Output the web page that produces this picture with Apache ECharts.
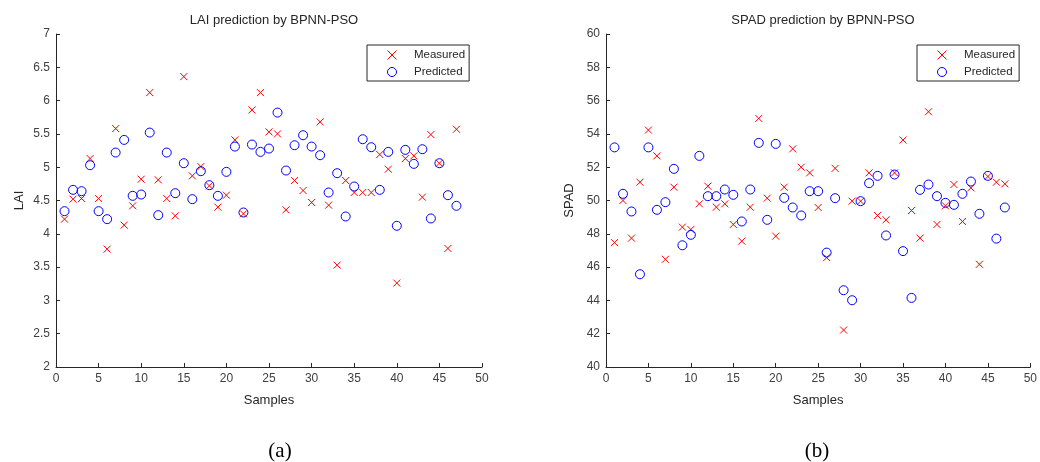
<!DOCTYPE html>
<html>
<head>
<meta charset="utf-8">
<script src="https://cdn.jsdelivr.net/npm/echarts@6/dist/echarts.min.js"></script>
<style>
  html, body { margin: 0; padding: 0; background: #fff; }
  #chart { width: 1040px; height: 462px; }
</style>
</head>
<body>
<div id="chart"></div>
<script>
// samples 1..47
var samples = [];
for (var s = 1; s <= 47; s++) samples.push(s);

// LAI (panel a)
var laiMeasured = [4.22, 4.52, 4.53, 5.13, 4.53, 3.77, 5.58, 4.13, 4.42, 4.82,
  6.12, 4.81, 4.53, 4.27, 6.36, 4.87, 5.01, 4.72, 4.40, 4.58,
  5.41, 4.30, 5.86, 6.12, 5.53, 5.50, 4.36, 4.80, 4.65, 4.47,
  5.68, 4.43, 3.53, 4.80, 4.62, 4.62, 4.62, 5.19, 4.97, 3.26,
  5.13, 5.17, 4.55, 5.49, 5.06, 3.78, 5.57];
var laiPredicted = [4.34, 4.66, 4.64, 5.03, 4.34, 4.22, 5.22, 5.41, 4.57, 4.59,
  5.52, 4.28, 5.22, 4.61, 5.06, 4.52, 4.94, 4.73, 4.57, 4.93,
  5.31, 4.32, 5.34, 5.23, 5.28, 5.82, 4.95, 5.33, 5.48, 5.31,
  5.18, 4.62, 4.91, 4.26, 4.71, 5.42, 5.30, 4.66, 5.23, 4.12,
  5.26, 5.05, 5.27, 4.23, 5.06, 4.58, 4.42];

// SPAD (panel b)
var spadMeasured = [47.47, 50.0, 47.74, 51.10, 54.23, 52.68, 46.47, 50.80, 48.40, 48.26,
  49.80, 50.86, 49.6, 49.8, 48.56, 47.56, 49.6, 54.93, 50.14, 47.86,
  50.80, 53.10, 52.0, 51.66, 49.58, 46.57, 51.93, 42.22, 49.96, 49.96,
  51.66, 49.10, 48.84, 51.66, 53.63, 49.4, 47.74, 55.33, 48.56, 49.68,
  50.96, 48.74, 50.76, 46.17, 51.44, 51.10, 51.0];
var spadPredicted = [53.19, 50.40, 49.34, 45.57, 53.19, 49.44, 49.90, 51.90, 47.31, 47.94,
  52.68, 50.26, 50.26, 50.66, 50.34, 48.74, 50.66, 53.46, 48.84, 53.40,
  50.16, 49.58, 49.1, 50.56, 50.56, 46.87, 50.14, 44.61, 44.01, 49.96,
  51.04, 51.48, 47.90, 51.56, 46.96, 44.15, 50.64, 50.96, 50.26, 49.86,
  49.74, 50.40, 51.14, 49.20, 51.48, 47.71, 49.58];

var titles = ['LAI prediction by BPNN-PSO', 'SPAD prediction by BPNN-PSO'];
var captions = ['(a)', '(b)'];

function pairs(vals) {
  return samples.map(function (x, i) { return [x, vals[i]]; });
}

var axisColor = '#262626';
var font = 'Liberation Sans, Arial, sans-serif';
var crossPath = 'path://M0,0L10,10M10,0L0,10';

function xAxisFor(idx) {
  return {
    gridIndex: idx, type: 'value', min: 0, max: 50, interval: 5,
    name: 'Samples', nameLocation: 'middle', nameGap: 27,
    nameTextStyle: { color: axisColor, fontSize: 13, fontFamily: font },
    axisLine: { lineStyle: { color: axisColor, width: 1 } },
    axisTick: { inside: true, length: 4, lineStyle: { color: axisColor } },
    axisLabel: { color: '#404040', fontSize: 12, fontFamily: font, margin: 6 },
    splitLine: { show: false }
  };
}

function yAxisFor(idx, name, min, max, step) {
  return {
    gridIndex: idx, type: 'value', min: min, max: max, interval: step,
    name: name, nameLocation: 'middle', nameGap: 30,
    nameTextStyle: { color: axisColor, fontSize: 13, fontFamily: font },
    axisLine: { show: true, lineStyle: { color: axisColor, width: 1 } },
    axisTick: { show: true, inside: true, length: 4, lineStyle: { color: axisColor } },
    axisLabel: { color: '#404040', fontSize: 12, fontFamily: font, margin: 6 },
    splitLine: { show: false }
  };
}

function measuredSeries(idx, vals) {
  return {
    name: 'Measured', type: 'scatter', xAxisIndex: idx, yAxisIndex: idx,
    symbol: crossPath, symbolSize: 7,
    itemStyle: { color: 'rgba(0,0,0,0)', borderColor: '#ff0000', borderWidth: 1, opacity: 1 },
    data: pairs(vals)
  };
}

function predictedSeries(idx, vals) {
  return {
    name: 'Predicted', type: 'scatter', xAxisIndex: idx, yAxisIndex: idx,
    symbol: 'circle', symbolSize: 9,
    itemStyle: { color: 'rgba(0,0,0,0)', borderColor: '#0000ff', borderWidth: 1, opacity: 1 },
    data: pairs(vals)
  };
}

function legendFor(left) {
  return {
    orient: 'vertical', left: left, top: 45,
    data: ['Measured', 'Predicted'],
    itemWidth: 24, itemHeight: 9, itemGap: 5,
    padding: [4, 4, 3, 20],
    borderColor: axisColor, borderWidth: 1, borderRadius: 0,
    backgroundColor: '#fff',
    itemStyle: { borderWidth: 1 },
    textStyle: { color: '#262626', fontSize: 11.5, fontFamily: font, padding: [0, 0, 0, 5] }
  };
}

var chart = echarts.init(document.getElementById('chart'), null, { renderer: 'canvas' });
chart.setOption({
  animation: false,
  backgroundColor: '#ffffff',
  title: [
    { text: titles[0], left: 269, top: 9, textAlign: 'center',
      textStyle: { color: axisColor, fontSize: 13, fontWeight: 'normal', fontFamily: font } },
    { text: titles[1], left: 818, top: 9, textAlign: 'center',
      textStyle: { color: axisColor, fontSize: 13, fontWeight: 'normal', fontFamily: font } },
    { text: captions[0], left: 275, top: 436, textAlign: 'center',
      textStyle: { color: '#000', fontSize: 21, fontWeight: 'normal', fontFamily: 'Liberation Serif, Times New Roman, serif' } },
    { text: captions[1], left: 812, top: 436, textAlign: 'center',
      textStyle: { color: '#000', fontSize: 21, fontWeight: 'normal', fontFamily: 'Liberation Serif, Times New Roman, serif' } }
  ],
  legend: [legendFor(367), legendFor(917)],
  grid: [
    { left: 56, top: 34, width: 426, height: 333 },
    { left: 606, top: 34, width: 425, height: 333 }
  ],
  xAxis: [xAxisFor(0), xAxisFor(1)],
  yAxis: [yAxisFor(0, 'LAI', 2, 7, 0.5), yAxisFor(1, 'SPAD', 40, 60, 2)],
  series: [
    measuredSeries(0, laiMeasured), predictedSeries(0, laiPredicted),
    measuredSeries(1, spadMeasured), predictedSeries(1, spadPredicted)
  ]
});
</script>
</body>
</html>
